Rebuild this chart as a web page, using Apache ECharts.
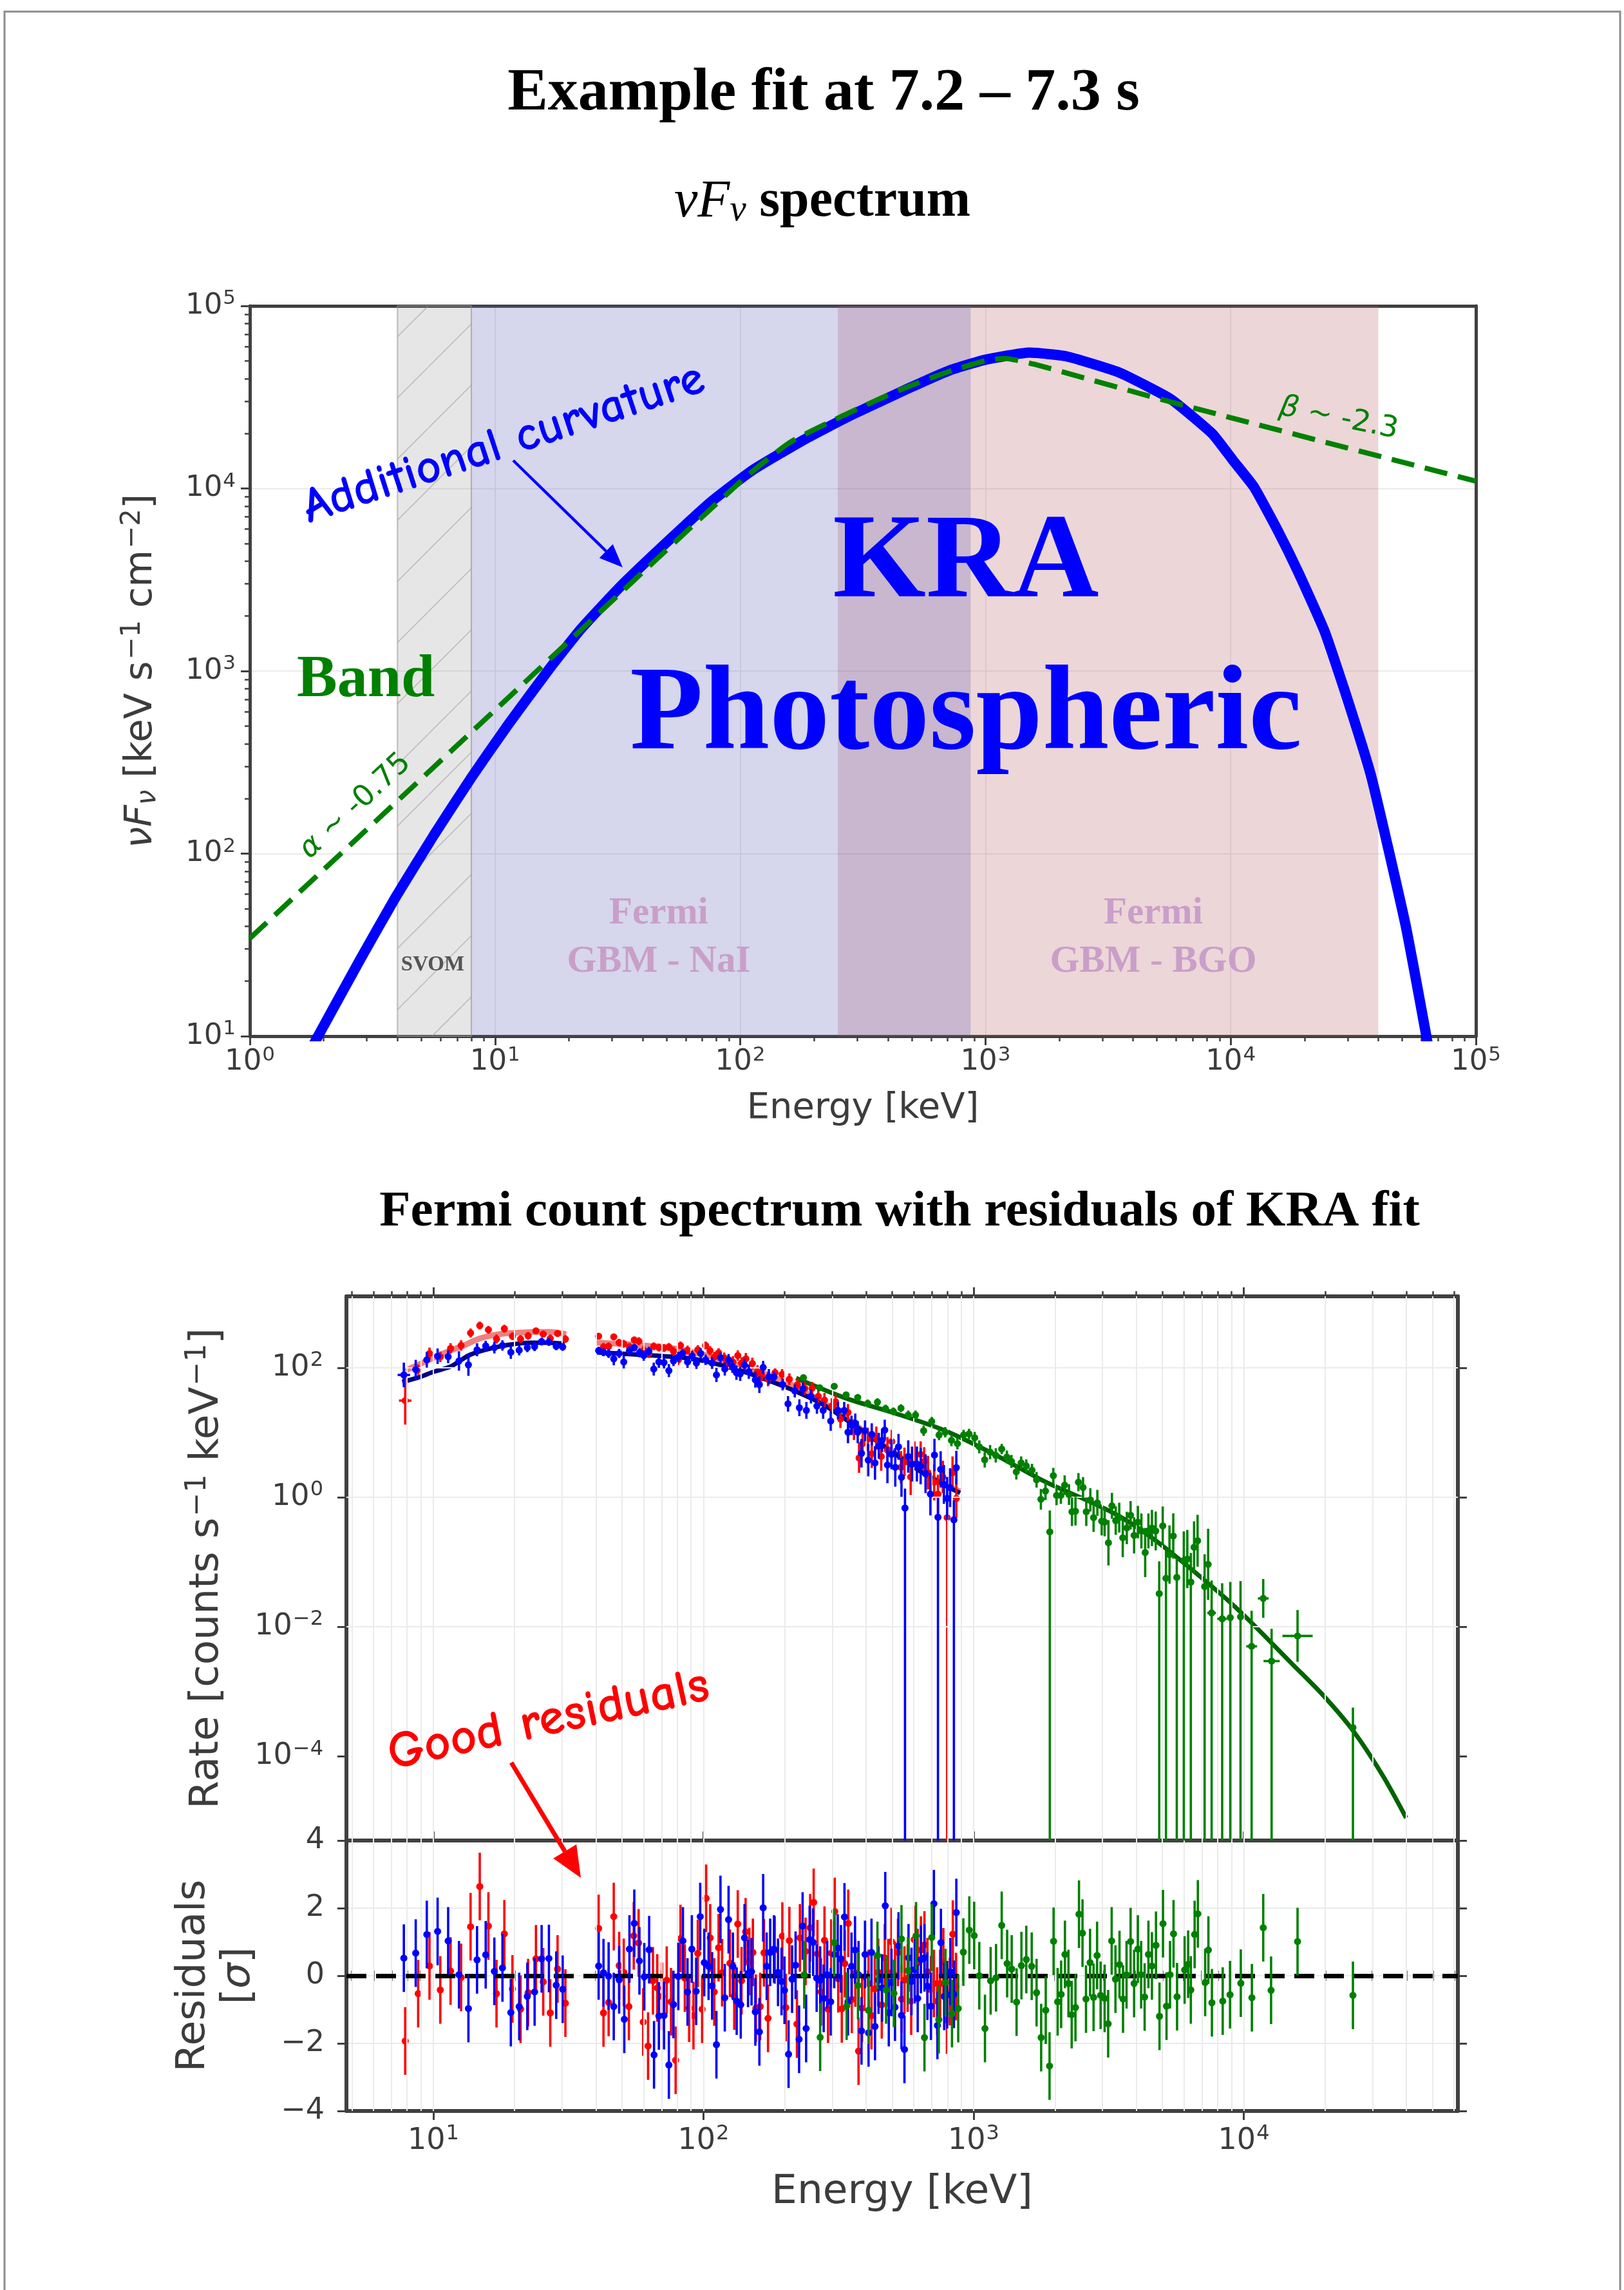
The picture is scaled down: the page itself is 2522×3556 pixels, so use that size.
<!DOCTYPE html>
<html>
<head>
<meta charset="utf-8">
<title>Example fit at 7.2 - 7.3 s</title>
<script src="https://cdn.jsdelivr.net/npm/echarts@6.0.0/dist/echarts.min.js"></script>
<style>
  html, body { margin: 0; padding: 0; background: #fff; }
  #main { width: 2522px; height: 3556px; }
</style>
</head>
<body>
<div id="main"></div>
<script>
// ===== nuFnu spectrum (log10 keV / log10 flux) =====
var kraLogE = [0.25, 0.278, 0.45, 0.594, 0.75, 0.9, 1.05, 1.226, 1.35, 1.509, 1.7, 1.879, 2.05, 2.264, 2.45,
  2.689, 2.85, 2.999, 3.18, 3.329, 3.542, 3.755, 3.925, 4.010, 4.095, 4.191, 4.276, 4.383, 4.478, 4.575, 4.713, 4.798, 4.83];
var kraLogF = [0.93, 1.0, 1.42, 1.76, 2.1, 2.41, 2.7, 3.02, 3.23, 3.46, 3.705, 3.925, 4.10, 4.27, 4.40,
  4.55, 4.645, 4.705, 4.744, 4.724, 4.637, 4.49, 4.30, 4.153, 4.008, 3.772, 3.54, 3.217, 2.838, 2.413, 1.61, 1.0, 0.75];
var bandLogE = [0, 1, 2, 2.2, 2.39, 2.55, 2.689, 2.85, 3.0, 3.08, 3.2, 3.755, 5];
var bandLogF = [1.536, 2.786, 4.036, 4.25, 4.38, 4.48, 4.56, 4.64, 4.70, 4.712, 4.68, 4.474, 4.04];
// instrument ranges [keV]
var svomRange = [4, 8];
var naiRange = [8, 870];
var bgoRange = [250, 40000];

// ===== count spectrum: NaI detector (red) =====
var naiRedLogE = [0.896, 0.944, 0.986, 1.026, 1.064, 1.103, 1.138, 1.172, 1.204, 1.234, 1.263, 1.293, 1.323, 1.351, 1.380, 1.407, 1.433, 1.460, 1.489,
  1.612, 1.630, 1.649, 1.668, 1.688, 1.705, 1.726, 1.744, 1.761, 1.779, 1.798, 1.816, 1.835, 1.854, 1.872, 1.889, 1.907, 1.915, 1.941, 1.958,
  1.979, 2.008, 2.024, 2.040, 2.056, 2.077, 2.093, 2.109, 2.127, 2.141, 2.157, 2.181, 2.200, 2.215, 2.239,
  2.265, 2.291, 2.318, 2.348, 2.375, 2.402, 2.425, 2.448, 2.475, 2.489, 2.507, 2.535, 2.557, 2.576, 2.589, 2.608, 2.623, 2.640, 2.658, 2.681,
  2.697, 2.731, 2.744, 2.767, 2.781, 2.804, 2.817, 2.831, 2.854, 2.868, 2.886, 2.902, 2.922, 2.936];
var naiRedLogRate = [1.493, 1.973, 2.222, 2.170, 2.300, 2.345, 2.537, 2.653, 2.587, 2.444, 2.604, 2.488, 2.444, 2.494, 2.570, 2.520, 2.454, 2.530, 2.444,
  2.488, 2.322, 2.332, 2.478, 2.388, 2.371, 2.322, 2.431, 2.411, 2.272, 2.222, 2.332, 2.312, 2.305, 2.322, 2.255, 2.123, 2.345, 2.272, 2.189,
  2.279, 2.345, 2.265, 2.166, 2.232, 2.156, 2.073, 2.090, 2.189, 2.073, 2.139, 2.066, 1.940, 1.890, 1.824,
  1.924, 1.900, 1.824, 1.741, 1.682, 1.682, 1.559, 1.502, 1.410, 1.476, 1.211, 1.310, 1.045, 0.607, 0.829, 0.896, 0.673, 0.912, 0.630, 0.730,
  0.862, 0.464, 0.547, 0.315, 0.663, 0.663, 0.554, 0.381, 0.232, 0.050, 0.315, -0.315, 0.381, -0.017];
// error half-width in dex; negative = lower bar runs to the axis floor
var naiRedErr = [0.37, 0.08, 0.09, 0.08, 0.08, 0.08, 0.07, 0.06, 0.06, 0.07, 0.06, 0.06, 0.06, 0.06, 0.05, 0.05, 0.06, 0.05, 0.06,
  0.05, 0.06, 0.06, 0.05, 0.06, 0.06, 0.06, 0.05, 0.06, 0.07, 0.07, 0.06, 0.06, 0.06, 0.06, 0.07, 0.08, 0.06, 0.07, 0.08,
  0.07, 0.06, 0.07, 0.08, 0.07, 0.08, 0.09, 0.09, 0.08, 0.09, 0.09, 0.09, 0.10, 0.10, 0.11,
  0.08, 0.08, 0.09, 0.09, 0.10, 0.10, 0.10, 0.11, 0.12, 0.11, 0.14, 0.13, 0.16, 0.23, 0.20, 0.18, 0.22, 0.18, 0.22, 0.20,
  0.18, 0.25, 0.22, 0.28, 0.20, 0.20, 0.22, 0.26, 0.28, 0.30, 0.25, -0.30, 0.25, 0.30];
var naiRedXerr = [0.023];
var naiRedModelLogE1 = [0.896, 0.949, 1.002, 1.055, 1.109, 1.162, 1.215, 1.268, 1.322, 1.375, 1.428, 1.492];
var naiRedModelLogR1 = [1.957, 2.056, 2.156, 2.255, 2.338, 2.438, 2.498, 2.531, 2.544, 2.554, 2.554, 2.521];
var naiRedModelLogE2 = [1.604, 1.694, 1.747, 1.800, 1.854, 1.907, 1.960, 2.013, 2.066, 2.120, 2.173, 2.226, 2.279, 2.343, 2.439, 2.530, 2.621, 2.712, 2.804, 2.895, 2.950];
var naiRedModelLogR2 = [2.388, 2.371, 2.355, 2.338, 2.322, 2.289, 2.239, 2.189, 2.123, 2.056, 1.973, 1.907, 1.824, 1.70, 1.47, 1.21, 0.94, 0.67, 0.41, 0.19, 0.09];

// ===== count spectrum: NaI detector (blue) =====
var naiBlueLogE = [0.891, 0.935, 0.976, 1.016, 1.055, 1.095, 1.130, 1.162, 1.194, 1.226, 1.256, 1.287, 1.318, 1.348, 1.375, 1.401, 1.428, 1.455, 1.479,
  1.612, 1.630, 1.649, 1.668, 1.688, 1.705, 1.726, 1.744, 1.763, 1.779, 1.798, 1.816, 1.835, 1.854, 1.872, 1.889, 1.907, 1.923, 1.941, 1.958,
  1.974, 1.990, 2.008, 2.032, 2.048, 2.063, 2.079, 2.093, 2.107, 2.122, 2.136, 2.152, 2.168, 2.192, 2.207, 2.221, 2.242,
  2.261, 2.293, 2.313, 2.338, 2.355, 2.368, 2.381, 2.398, 2.420, 2.443, 2.471, 2.498, 2.521, 2.535, 2.548, 2.562, 2.571, 2.585, 2.598, 2.610,
  2.623, 2.635, 2.649, 2.661, 2.671, 2.681, 2.696, 2.710, 2.722, 2.733, 2.746, 2.758, 2.772, 2.790, 2.804, 2.822, 2.840, 2.855, 2.868, 2.878,
  2.890, 2.902, 2.913, 2.927, 2.936];
var naiBlueLogRate = [1.890, 1.973, 2.123, 2.179, 2.172, 2.106, 2.046, 2.279, 2.338, 2.312, 2.345, 2.239, 2.272, 2.312, 2.328, 2.405, 2.398, 2.332, 2.322,
  2.265, 2.239, 2.222, 2.139, 2.222, 2.090, 2.265, 2.312, 2.232, 2.189, 2.255, 1.980, 2.090, 2.080, 1.957, 2.106, 2.166, 2.222, 2.090, 2.179,
  2.073, 2.222, 2.123, 2.073, 1.890, 2.156, 1.980, 2.123, 2.023, 1.924, 1.907, 2.040, 1.940, 1.814, 1.741, 2.007, 1.860,
  1.857, 1.741, 1.443, 1.642, 1.383, 1.675, 1.343, 1.559, 1.410, 1.343, 1.177, 1.343, 1.343, 1.005, 1.111, 1.144, 1.005, 0.680, 1.028, 0.574,
  0.972, 0.531, 0.796, 0.879, 1.038, 0.498, 0.663, 0.464, 0.779, 0.308, -0.166, 0.630, 0.514, 0.514, 0.481, 0.365, 0.050, 0.653, -0.308, 0.431,
  0.199, -0.017, 0.149, -0.348, 0.458];
var naiBlueErr = [0.19, 0.15, 0.12, 0.12, 0.10, 0.15, 0.17, 0.10, 0.08, 0.09, 0.08, 0.10, 0.08, 0.07, 0.07, 0.06, 0.06, 0.06, 0.06,
  0.06, 0.06, 0.07, 0.10, 0.07, 0.10, 0.07, 0.06, 0.07, 0.08, 0.07, 0.10, 0.09, 0.09, 0.10, 0.08, 0.08, 0.07, 0.09, 0.08,
  0.09, 0.08, 0.08, 0.09, 0.11, 0.08, 0.10, 0.09, 0.10, 0.11, 0.11, 0.10, 0.11, 0.12, 0.13, 0.10, 0.12,
  0.08, 0.09, 0.12, 0.10, 0.13, 0.10, 0.13, 0.11, 0.12, 0.13, 0.15, 0.13, 0.13, 0.17, 0.15, 0.15, 0.17, 0.22, 0.16, 0.25,
  0.17, 0.26, 0.20, 0.18, 0.16, 0.28, 0.23, 0.30, 0.20, 0.30, -0.30, 0.25, 0.27, 0.27, 0.28, 0.30, 0.33, 0.25, -0.30, 0.28,
  0.30, 0.33, 0.30, -0.30, 0.26];
var naiBlueXerr = [0.023];
var naiBlueModelLogE1 = [0.885, 0.949, 1.002, 1.066, 1.130, 1.194, 1.279, 1.364, 1.428, 1.486];
var naiBlueModelLogR1 = [1.781, 1.857, 1.940, 2.023, 2.189, 2.279, 2.355, 2.388, 2.388, 2.371];
var naiBlueModelLogE2 = [1.604, 1.747, 1.854, 1.960, 2.066, 2.173, 2.256, 2.348, 2.439, 2.530, 2.621, 2.712, 2.804, 2.895, 2.950];
var naiBlueModelLogR2 = [2.239, 2.206, 2.179, 2.139, 2.040, 1.907, 1.780, 1.625, 1.443, 1.194, 0.929, 0.663, 0.398, 0.182, 0.066];

// ===== count spectrum: BGO detector (green) =====
var bgoLogE = [2.370, 2.430, 2.484, 2.528, 2.571, 2.608, 2.644, 2.674, 2.703, 2.731, 2.758, 2.785, 2.815, 2.845, 2.872, 2.895, 2.918, 2.940, 2.963, 2.983,
  3.004, 3.021, 3.041, 3.061, 3.082,
  3.104, 3.123, 3.140, 3.158, 3.176, 3.195, 3.216, 3.233, 3.249, 3.266, 3.282, 3.295, 3.307, 3.323, 3.337, 3.353, 3.364, 3.377, 3.388, 3.405,
  3.417, 3.432, 3.444, 3.458, 3.474, 3.485, 3.499, 3.512, 3.526, 3.539, 3.552, 3.567, 3.581, 3.594, 3.608, 3.621, 3.635, 3.647, 3.660, 3.674,
  3.687, 3.700, 3.712, 3.725, 3.739, 3.752, 3.778, 3.791, 3.804, 3.816, 3.829, 3.855, 3.868, 3.881, 3.920, 3.950, 3.988, 4.029, 4.072, 4.103,
  4.199, 4.404];
var bgoLogRate = [1.847, 1.692, 1.715, 1.582, 1.542, 1.449, 1.469, 1.370, 1.327, 1.376, 1.270, 1.270, 1.028, 1.171, 0.962, 1.005, 0.879, 0.829, 0.962, 0.978,
  0.919, 0.779, 0.580, 0.697, 0.647,
  0.745, 0.622, 0.554, 0.394, 0.531, 0.485, 0.417, 0.270, -0.031, 0.097, -0.534, 0.334, 0.028, 0.028, 0.188, 0.042, -0.223, -0.214, 0.234, 0.152,
  -0.223, -0.040, -0.314, -0.086, -0.369, -0.383, -0.703, -0.132, -0.360, -0.314, -0.625, -0.474, -0.278, -0.588, -0.383, -0.520, -0.853, -0.520, -0.474, -0.520,
  -1.488, -0.442, -1.251, -0.885, -0.598, -1.237, -0.977, -0.954, -1.310, -0.771, -0.671, -1.379, -1.036, -1.786, -1.877, -1.858, -1.845, -2.302, -1.562, -2.530,
  -2.142, -3.558];
var bgoErr = [0.03, 0.04, 0.04, 0.05, 0.05, 0.06, 0.06, 0.06, 0.06, 0.06, 0.07, 0.07, 0.08, 0.07, 0.08, 0.08, 0.09, 0.09, 0.08, 0.08,
  0.09, 0.10, 0.12, 0.11, 0.11,
  0.08, 0.10, 0.10, 0.12, 0.10, 0.10, 0.10, 0.12, 0.16, 0.14, -0.33, 0.12, 0.15, 0.13, 0.15, 0.16, 0.22, 0.22, 0.14, 0.16,
  0.22, 0.18, 0.22, 0.20, 0.22, 0.22, 0.35, 0.20, 0.22, 0.23, 0.30, 0.25, 0.22, 0.28, 0.25, 0.27, 0.38, 0.27, 0.28, 0.30,
  -0.50, 0.30, -0.45, 0.45, 0.35, -0.30, -0.45, 0.45, -0.45, 0.40, 0.40, -0.50, 0.55, -0.50, -0.55, -0.55, -0.55, -0.55, 0.30, -0.50,
  0.40, -0.31];
var bgoXerr = [0, 0, 0, 0, 0, 0, 0, 0, 0, 0, 0, 0, 0, 0, 0, 0, 0, 0, 0, 0,
  0, 0, 0, 0, 0,
  0, 0, 0, 0, 0, 0, 0, 0, 0, 0, 0, 0, 0, 0, 0, 0, 0, 0, 0, 0,
  0, 0, 0, 0, 0, 0, 0, 0, 0, 0, 0, 0, 0, 0, 0, 0, 0, 0, 0, 0,
  0, 0, 0, 0, 0, 0, 0, 0, 0, 0, 0, 0, 0, 0.016, 0.018, 0, 0, 0.02, 0.02, 0.03,
  0.056, 0];
var bgoModelLogE = [2.343, 2.530, 2.712, 2.895, 3.077, 3.260, 3.442, 3.529, 3.625, 3.747, 3.966, 4.185, 4.294, 4.404, 4.513, 4.601];
var bgoModelLogR = [1.841, 1.526, 1.294, 1.028, 0.663, 0.25, -0.09, -0.269, -0.52, -0.908, -1.685, -2.599, -3.06, -3.603, -4.289, -4.951];

// ===== residuals [sigma] =====
var resRedLogE = [0.896, 0.944, 0.986, 1.026, 1.064, 1.103, 1.138, 1.172, 1.204, 1.234, 1.263, 1.293, 1.323, 1.351, 1.380, 1.407, 1.433, 1.460, 1.489,
  1.612, 1.630, 1.649, 1.668, 1.688, 1.705, 1.724, 1.742, 1.760, 1.777, 1.795, 1.813, 1.829, 1.847, 1.864, 1.880, 1.897, 1.915, 1.931, 1.947,
  1.963, 1.979, 1.995, 2.010, 2.025, 2.040, 2.056, 2.069, 2.098, 2.114, 2.127, 2.141, 2.156, 2.170, 2.183, 2.194, 2.210, 2.224, 2.239,
  2.264, 2.292, 2.305, 2.318, 2.346, 2.357, 2.378, 2.395, 2.408, 2.422, 2.435, 2.448, 2.461, 2.473, 2.486, 2.499, 2.512, 2.523, 2.536, 2.549,
  2.562, 2.574, 2.587, 2.598, 2.611, 2.622, 2.634, 2.647, 2.660, 2.671, 2.684, 2.696, 2.709, 2.720, 2.733, 2.744, 2.756, 2.769, 2.780, 2.793,
  2.805, 2.818, 2.829, 2.842, 2.853, 2.865, 2.876, 2.888, 2.901, 2.912, 2.923, 2.935];
var resRed = [-1.93, -0.53, 0.29, -0.42, 0.14, -0.05, 1.45, 2.64, 1.47, -0.53, 1.24, -0.39, -0.99, -0.50, 0.50, -0.18, -1.10, 0.20, -0.81,
  1.40, -1.10, -0.79, 1.75, 0.30, 0.10, -0.91, 1.18, 0.97, -1.37, -2.08, -0.15, -0.36, -0.61, -0.13, -0.77, -2.50, 1.10, -0.07, -0.96,
  -1.18, 0.66, -0.99, 2.29, 1.12, -0.48, 0.83, 0.09, 0.37, -0.60, 1.53, -0.15, 1.30, 0.42, 0.69, -0.96, -0.91, 0.68, -1.26,
  0.76, 1.17, -0.94, 1.04, -1.43, 1.12, 0.72, 1.42, 2.17, 0.65, -0.48, 1.05, -0.99, 0.67, 1.90, -0.09, -0.98, 0.36, 1.55, -0.70,
  0.08, -2.23, -0.96, -0.04, -0.23, -1.18, -0.39, 0.10, -0.86, 0.53, 0.09, 1.01, 0.01, 0.69, -0.69, -0.13, -0.07, -0.75, 1.07, 0.39,
  0.76, 0.91, 0.12, -0.41, -0.23, -0.75, -0.23, 0.41, -1.31, -0.47, 1.23, -0.32];
var resBlueLogE = [0.891, 0.935, 0.976, 1.016, 1.055, 1.095, 1.130, 1.162, 1.194, 1.226, 1.256, 1.287, 1.318, 1.348, 1.375, 1.401, 1.428, 1.455, 1.479,
  1.612, 1.630, 1.649, 1.668, 1.688, 1.707, 1.726, 1.744, 1.763, 1.781, 1.799, 1.817, 1.835, 1.854, 1.872, 1.889, 1.907, 1.924, 1.941, 1.957,
  1.973, 1.988, 2.003, 2.019, 2.032, 2.048, 2.063, 2.079, 2.093, 2.109, 2.123, 2.138, 2.152, 2.165, 2.178, 2.192, 2.207, 2.221, 2.234, 2.247,
  2.261, 2.276, 2.289, 2.300, 2.315, 2.328, 2.341, 2.354, 2.367, 2.380, 2.393, 2.406, 2.419, 2.432, 2.445, 2.458, 2.471, 2.484, 2.497, 2.509,
  2.522, 2.535, 2.548, 2.561, 2.574, 2.585, 2.598, 2.611, 2.622, 2.635, 2.648, 2.661, 2.673, 2.686, 2.696, 2.709, 2.722, 2.733, 2.744, 2.759,
  2.770, 2.782, 2.793, 2.805, 2.818, 2.829, 2.842, 2.853, 2.866, 2.879, 2.891, 2.902, 2.914, 2.927, 2.936];
var resBlue = [0.52, 0.67, 1.22, 1.31, 1.03, 0.03, -0.97, 0.47, 0.62, 0.13, 0.23, -1.09, -0.91, -0.61, -0.48, 0.50, 0.51, -0.28, -0.40,
  0.29, 0.09, -0.01, -0.91, -0.12, -1.29, 0.79, 1.55, 0.44, -0.03, 0.77, -2.34, -1.19, -1.18, -2.64, -0.85, -0.02, 1.03, -0.48, 0.79,
  -0.46, 1.75, 0.39, 0.28, -0.30, -2.04, 1.96, -0.65, 1.66, 0.28, -0.75, -0.86, 1.12, 0.07, 0.12, -1.07, -1.66, 2.01, 0.28, 0.69,
  0.79, 0.10, -0.17, -0.43, -2.32, -0.10, 0.31, -1.88, 1.47, -1.56, 1.07, 0.99, -0.07, -0.13, -0.67, 0.03, -0.77, 0.63, 0.82, 0.50,
  1.74, -0.77, 0.28, 0.76, 0.03, -1.63, 0.63, -1.69, 0.69, -1.50, -0.13, -0.36, 2.07, -1.09, -0.20, -0.93, 0.88, -1.17, -2.18, 0.53,
  -0.17, 0.18, -0.67, 0.48, 0.53, -0.31, -0.90, 2.13, -1.47, 0.98, -0.61, -0.56, 0.12, -0.55, 1.87];
var resGreenLogE = [2.373, 2.432, 2.484, 2.530, 2.572, 2.611, 2.644, 2.676, 2.705, 2.733, 2.757, 2.787, 2.818, 2.845, 2.871, 2.896, 2.920, 2.943, 2.962, 2.984,
  3.002, 3.021, 3.042, 3.063, 3.083, 3.104, 3.124, 3.141, 3.159, 3.177, 3.195, 3.215, 3.233, 3.250, 3.267, 3.281, 3.296, 3.311, 3.324, 3.338,
  3.351, 3.363, 3.377, 3.390, 3.403, 3.416, 3.431, 3.444, 3.457, 3.470, 3.485, 3.498, 3.511, 3.525, 3.540, 3.553, 3.566, 3.581, 3.594, 3.608,
  3.620, 3.633, 3.647, 3.660, 3.675, 3.688, 3.701, 3.714, 3.727, 3.740, 3.753, 3.781, 3.794, 3.804, 3.818, 3.830, 3.857, 3.869, 3.882, 3.922,
  3.949, 3.989, 4.030, 4.072, 4.101, 4.199, 4.404];
var resGreen = [0.03, -1.82, 0.98, -0.90, -0.29, -1.02, 0.60, -0.42, -0.52, 1.09, 0.15, 1.18, -1.83, 1.13, -1.30, -0.20, -1.12, -0.97, 0.70, 1.35,
  1.19, 0.00, -1.56, -0.15, -0.06, 1.49, 0.36, 0.20, -0.78, 0.30, 0.48, 0.28, -0.50, -1.83, -1.02, -2.67, 1.02, -0.77, -0.55, 0.63,
  -0.23, -1.15, -0.94, 1.82, 1.26, -0.69, 0.39, -0.64, 0.60, -0.58, -0.67, -1.42, 1.03, -0.10, 0.33, -0.69, 0.03, 1.01, -0.23, 0.79,
  0.03, -0.63, 0.63, 0.29, 0.90, -1.20, 1.54, -0.90, 0.03, 1.24, -0.62, 0.17, 0.34, -0.42, 1.22, 1.83, -0.20, 0.76, -0.80, -0.75,
  -0.56, -0.22, -0.65, 1.42, -0.43, 1.01, -0.58];

// axis ticks
var countMajor = [10, 100, 1000, 10000];
var rateMajor = [1e-4, 1e-2, 1, 100];

var FONT = '"DejaVu Sans", sans-serif';
var SERIF = '"Liberation Serif", "Times New Roman", serif';
var COMIC = '"Comic Sans MS", "Comic Neue", "DejaVu Sans", sans-serif';
var AX = '#404040';
var TXT = '#3c3c3c';
var GRIDC = '#ebebeb';

var p10 = function(v){ return Math.pow(10, v); };
var curve = function(le, lr){
  return le.map(function(x, i){ return [p10(x), p10(lr[i])]; });
};
var minorBetween = function(lo, hi){
  var out = [];
  for (var d = 1; d < 1e6; d *= 10) {
    for (var k = 2; k < 10; k++) {
      var v = d * k;
      if (v > lo && v < hi) out.push(v);
    }
  }
  return out;
};
var pointData = function(le, lr, err, xerr){
  return le.map(function(x, i){
    var e = err[i], dx = (xerr && xerr[i]) || 0;
    return [p10(x), p10(lr[i]), p10(lr[i] + Math.abs(e)), e < 0 ? 1e-12 : p10(lr[i] - e), p10(x - dx), p10(x + dx)];
  });
};
var residualData = function(le, res){
  return le.map(function(x, i){
    return [p10(x), res[i], res[i] + 1, res[i] - 1, p10(x), p10(x)];
  });
};
var renderErr = function(color){
  return function(params, api){
    var cs = params.coordSys;
    var x = api.value(0), y = api.value(1);
    var p = api.coord([x, y]);
    var hi = api.coord([x, api.value(2)]);
    var lo = api.coord([x, api.value(3)]);
    var xl = api.coord([api.value(4), y]);
    var xr = api.coord([api.value(5), y]);
    var yb = Math.min(lo[1], cs.y + cs.height);
    var yt = Math.max(hi[1], cs.y);
    var kids = [
      {type: 'line', shape: {x1: p[0], y1: yt, x2: p[0], y2: yb}, style: {stroke: color, lineWidth: 3.6}},
      {type: 'circle', shape: {cx: p[0], cy: p[1], r: 5.5}, style: {fill: color}}
    ];
    if (xr[0] - xl[0] > 2) {
      kids.push({type: 'line', shape: {x1: xl[0], y1: p[1], x2: xr[0], y2: p[1]}, style: {stroke: color, lineWidth: 3.6}});
    }
    return {type: 'group', children: kids};
  };
};
var powLabel = function(v){
  var n = Math.round(Math.log(v) / Math.LN10);
  return '{b|10}{s|' + (n < 0 ? '\u2212' + (-n) : n) + '}';
};
var supRich = function(size){
  return {
    b: {fontSize: size, fontFamily: FONT, color: TXT},
    s: {fontSize: Math.round(size * 0.7), fontFamily: FONT, color: TXT, padding: [0, 0, Math.round(size * 0.48), 1]}
  };
};
var arrow = function(x1, y1, x2, y2, color, lw, len, half){
  var dx = x2 - x1, dy = y2 - y1, L = Math.sqrt(dx * dx + dy * dy);
  var ux = dx / L, uy = dy / L;
  var bx = x2 - ux * len, by = y2 - uy * len;
  return [
    {type: 'line', z: 100, silent: true, shape: {x1: x1, y1: y1, x2: bx, y2: by}, style: {stroke: color, lineWidth: lw}},
    {type: 'polygon', z: 100, silent: true, shape: {points: [[x2, y2], [bx - uy * half, by + ux * half], [bx + uy * half, by - ux * half]]}, style: {fill: color}}
  ];
};
var label = function(x, y, text, opts){
  var st = {text: text, fill: opts.color, fontSize: opts.size, fontFamily: opts.family || SERIF,
    fontWeight: opts.weight || 'normal', fontStyle: opts.style || 'normal',
    align: opts.align || 'center', verticalAlign: 'middle',
    textAlign: opts.align || 'center', textVerticalAlign: 'middle'};
  if (opts.rich) st.rich = opts.rich;
  return {type: 'text', x: x, y: y, rotation: opts.rot || 0, z: 100, silent: true, style: st};
};

// hatch for the SVOM band
var hatch = document.createElement('canvas');
hatch.width = 95; hatch.height = 95;
var hc = hatch.getContext('2d');
hc.fillStyle = 'rgba(128,128,128,0.2)';
hc.fillRect(0, 0, 95, 95);
hc.strokeStyle = 'rgba(140,140,140,0.45)';
hc.lineWidth = 1.6;
hc.beginPath(); hc.moveTo(-5, 100); hc.lineTo(100, -5); hc.stroke();

var minorTopX = minorBetween(1, 1e5);
var minorTopY = minorBetween(10, 1e5);
var minorCount = minorBetween(4.77, 62000);
var countGridX = countMajor.concat(minorCount);

var frameLine = function(w){ return {show: true, onZero: false, lineStyle: {color: AX, width: w}}; };

var chart = echarts.init(document.getElementById('main'));

var option = {
  animation: false,
  backgroundColor: '#ffffff',
  grid: [
    {left: 388, top: 475, width: 1904, height: 1134},
    {left: 538, top: 2013, width: 1726, height: 845},
    {left: 538, top: 2858, width: 1726, height: 420}
  ],
  xAxis: [
    // 0: nuFnu energy axis
    {gridIndex: 0, type: 'log', min: 1, max: 1e5, position: 'bottom',
      axisLine: frameLine(5),
      axisTick: {show: true, length: 14, lineStyle: {color: AX, width: 3}},
      axisLabel: {margin: 14, formatter: powLabel, rich: supRich(45)},
      splitLine: {show: true, lineStyle: {color: GRIDC, width: 2}},
      name: 'Energy [keV]', nameLocation: 'middle', nameGap: 84,
      nameTextStyle: {fontFamily: FONT, fontSize: 56, color: TXT}},
    // 1: nuFnu minor ticks
    {gridIndex: 0, type: 'log', min: 1, max: 1e5, position: 'bottom',
      axisLine: {show: false}, axisLabel: {show: false}, splitLine: {show: false},
      axisTick: {show: true, length: 8, customValues: minorTopX, lineStyle: {color: AX, width: 2.5}}},
    // 2: nuFnu top frame
    {gridIndex: 0, type: 'log', min: 1, max: 1e5, position: 'top',
      axisLine: frameLine(5), axisTick: {show: false}, axisLabel: {show: false}, splitLine: {show: false}},
    // 3: count panel top, major ticks
    {gridIndex: 1, type: 'log', min: 4.77, max: 62000, position: 'top',
      axisLine: frameLine(6), axisLabel: {show: false}, splitLine: {show: false},
      axisTick: {show: true, length: 14, customValues: countMajor, lineStyle: {color: AX, width: 3}}},
    // 4: count panel top, minor ticks
    {gridIndex: 1, type: 'log', min: 4.77, max: 62000, position: 'top',
      axisLine: {show: false}, axisLabel: {show: false}, splitLine: {show: false},
      axisTick: {show: true, length: 8, customValues: minorCount, lineStyle: {color: AX, width: 2.5}}},
    // 5: count panel bottom frame
    {gridIndex: 1, type: 'log', min: 4.77, max: 62000, position: 'bottom',
      axisLine: frameLine(6), axisTick: {show: false}, axisLabel: {show: false}, splitLine: {show: false}},
    // 6: residual energy axis
    {gridIndex: 2, type: 'log', min: 4.77, max: 62000, position: 'bottom',
      axisLine: frameLine(6), splitLine: {show: false},
      axisTick: {show: true, length: 14, customValues: countMajor, lineStyle: {color: AX, width: 3}},
      axisLabel: {margin: 20, customValues: countMajor, formatter: powLabel, rich: supRich(46)},
      name: 'Energy [keV]', nameLocation: 'middle', nameGap: 95,
      nameTextStyle: {fontFamily: FONT, fontSize: 63, color: TXT}},
    // 7: residual minor ticks
    {gridIndex: 2, type: 'log', min: 4.77, max: 62000, position: 'bottom',
      axisLine: {show: false}, axisLabel: {show: false}, splitLine: {show: false},
      axisTick: {show: true, length: 8, customValues: minorCount, lineStyle: {color: AX, width: 2.5}}},
    // 8: residual top major
    {gridIndex: 2, type: 'log', min: 4.77, max: 62000, position: 'top',
      axisLine: frameLine(6), axisLabel: {show: false}, splitLine: {show: false},
      axisTick: {show: true, length: 14, customValues: countMajor, lineStyle: {color: AX, width: 3}}},
    // 9: residual top minor
    {gridIndex: 2, type: 'log', min: 4.77, max: 62000, position: 'top',
      axisLine: {show: false}, axisLabel: {show: false}, splitLine: {show: false},
      axisTick: {show: true, length: 8, customValues: minorCount, lineStyle: {color: AX, width: 2.5}}}
  ],
  yAxis: [
    // 0: nuFnu flux
    {gridIndex: 0, type: 'log', min: 10, max: 1e5, position: 'left',
      axisLine: frameLine(5),
      axisTick: {show: true, length: 14, lineStyle: {color: AX, width: 3}},
      axisLabel: {margin: 22, formatter: powLabel, rich: supRich(45)},
      splitLine: {show: true, lineStyle: {color: GRIDC, width: 2}},
      name: '{m|\u03bdF}{sub|\u03bd}{t| [keV s}{sup|\u22121}{t| cm}{sup|\u22122}{t|]}',
      nameLocation: 'middle', nameGap: 134, nameRotate: 90,
      nameTextStyle: {color: TXT, fontFamily: FONT, fontSize: 59, rich: {
        t: {fontFamily: FONT, fontSize: 59, color: TXT},
        m: {fontFamily: FONT, fontSize: 59, color: TXT, fontStyle: 'italic'},
        sub: {fontFamily: FONT, fontSize: 42, color: TXT, fontStyle: 'italic', padding: [22, 0, 0, 0]},
        sup: {fontFamily: FONT, fontSize: 42, color: TXT, padding: [0, 0, 27, 2]}
      }}},
    // 1: nuFnu minor ticks
    {gridIndex: 0, type: 'log', min: 10, max: 1e5, position: 'left',
      axisLine: {show: false}, axisLabel: {show: false}, splitLine: {show: false},
      axisTick: {show: true, length: 8, customValues: minorTopY, lineStyle: {color: AX, width: 2.5}}},
    // 2: nuFnu right frame
    {gridIndex: 0, type: 'log', min: 10, max: 1e5, position: 'right',
      axisLine: frameLine(5), axisTick: {show: false}, axisLabel: {show: false}, splitLine: {show: false}},
    // 3: count rate
    {gridIndex: 1, type: 'log', min: 5e-6, max: 1270, position: 'left',
      axisLine: frameLine(6), splitLine: {show: false},
      axisTick: {show: true, length: 14, customValues: rateMajor, lineStyle: {color: AX, width: 3}},
      axisLabel: {margin: 36, customValues: rateMajor, formatter: powLabel, rich: supRich(46)},
      name: '{t|Rate [counts s}{sup|\u22121}{t| keV}{sup|\u22121}{t|]}',
      nameLocation: 'middle', nameGap: 180, nameRotate: 90,
      nameTextStyle: {color: TXT, fontFamily: FONT, fontSize: 63, rich: {
        t: {fontFamily: FONT, fontSize: 63, color: TXT},
        sup: {fontFamily: FONT, fontSize: 44, color: TXT, padding: [0, 0, 28, 2]}
      }}},
    // 4: count rate right frame
    {gridIndex: 1, type: 'log', min: 5e-6, max: 1270, position: 'right',
      axisLine: frameLine(6), axisLabel: {show: false}, splitLine: {show: false},
      axisTick: {show: true, length: 14, customValues: rateMajor, lineStyle: {color: AX, width: 3}}},
    // 5: residuals
    {gridIndex: 2, type: 'value', min: -4, max: 4, interval: 2, position: 'left',
      axisLine: frameLine(6),
      axisTick: {show: true, length: 14, lineStyle: {color: AX, width: 3}},
      axisLabel: {margin: 34, fontFamily: FONT, fontSize: 46, color: TXT,
        formatter: function(v){ return v < 0 ? '\u2212' + (-v) : '' + v; }},
      splitLine: {show: true, lineStyle: {color: GRIDC, width: 2}},
      name: '{t|Residuals}\n{t|[}{i|\u03c3}{t|]}',
      nameLocation: 'middle', nameGap: 132, nameRotate: 90,
      nameTextStyle: {color: TXT, fontFamily: FONT, fontSize: 63, lineHeight: 70, rich: {
        t: {fontFamily: FONT, fontSize: 63, color: TXT, lineHeight: 70},
        i: {fontFamily: FONT, fontSize: 63, color: TXT, fontStyle: 'italic', lineHeight: 70}
      }}},
    // 6: residual right frame
    {gridIndex: 2, type: 'value', min: -4, max: 4, interval: 2, position: 'right',
      axisLine: frameLine(6), axisLabel: {show: false}, splitLine: {show: false},
      axisTick: {show: true, length: 14, lineStyle: {color: AX, width: 3}}}
  ],
  series: [
    // ---------- nuFnu panel ----------
    {name: 'bands', type: 'scatter', xAxisIndex: 0, yAxisIndex: 0, data: [[10, 100]], symbolSize: 0, silent: true, z: 1,
      markArea: {silent: true, label: {show: false}, data: [
        [{xAxis: svomRange[0], itemStyle: {color: {image: hatch, repeat: 'repeat'}, borderColor: 'rgba(150,150,150,0.6)', borderWidth: 2}}, {xAxis: svomRange[1]}],
        [{xAxis: bgoRange[0], itemStyle: {color: 'rgba(179,91,95,0.25)'}}, {xAxis: bgoRange[1]}],
        [{xAxis: naiRange[0], itemStyle: {color: 'rgba(91,91,179,0.25)'}}, {xAxis: naiRange[1]}]
      ]}},
    {name: 'KRA', type: 'line', xAxisIndex: 0, yAxisIndex: 0, data: curve(kraLogE, kraLogF),
      showSymbol: false, smooth: 0.15, z: 3, lineStyle: {color: '#0000ff', width: 16, cap: 'butt'}},
    {name: 'Band', type: 'line', xAxisIndex: 0, yAxisIndex: 0, data: curve(bandLogE, bandLogF),
      showSymbol: false, smooth: 0.2, z: 4, lineStyle: {color: '#008000', width: 8, type: [36, 17]}},

    // ---------- count panel ----------
    {name: 'countGrid', type: 'scatter', xAxisIndex: 3, yAxisIndex: 3, data: [[100, 1]], symbolSize: 0, silent: true, z: 1,
      markLine: {silent: true, symbol: ['none', 'none'], label: {show: false},
        lineStyle: {color: GRIDC, width: 2, type: 'solid'},
        data: countGridX.map(function(v){ return {xAxis: v}; }).concat(rateMajor.map(function(v){ return {yAxis: v}; }))}},
    {name: 'model n1 a', type: 'line', xAxisIndex: 3, yAxisIndex: 3, data: curve(naiRedModelLogE1, naiRedModelLogR1),
      showSymbol: false, smooth: 0.3, z: 2, lineStyle: {color: '#f08080', width: 9}},
    {name: 'model n1 b', type: 'line', xAxisIndex: 3, yAxisIndex: 3, data: curve(naiRedModelLogE2, naiRedModelLogR2),
      showSymbol: false, smooth: 0.3, z: 2, lineStyle: {color: '#f08080', width: 9}},
    {name: 'model n2 a', type: 'line', xAxisIndex: 3, yAxisIndex: 3, data: curve(naiBlueModelLogE1, naiBlueModelLogR1),
      showSymbol: false, smooth: 0.3, z: 3, lineStyle: {color: '#000080', width: 7}},
    {name: 'model n2 b', type: 'line', xAxisIndex: 3, yAxisIndex: 3, data: curve(naiBlueModelLogE2, naiBlueModelLogR2),
      showSymbol: false, smooth: 0.3, z: 3, lineStyle: {color: '#000080', width: 7}},
    {name: 'model b0', type: 'line', xAxisIndex: 3, yAxisIndex: 3, data: curve(bgoModelLogE, bgoModelLogR),
      showSymbol: false, smooth: 0.3, z: 3, lineStyle: {color: '#006400', width: 7}},
    {name: 'n1', type: 'custom', xAxisIndex: 3, yAxisIndex: 3, z: 4, encode: {x: 0, y: 1},
      data: pointData(naiRedLogE, naiRedLogRate, naiRedErr, naiRedXerr), renderItem: renderErr('#ff0000')},
    {name: 'n2', type: 'custom', xAxisIndex: 3, yAxisIndex: 3, z: 5, encode: {x: 0, y: 1},
      data: pointData(naiBlueLogE, naiBlueLogRate, naiBlueErr, naiBlueXerr), renderItem: renderErr('#0000ff')},
    {name: 'b0', type: 'custom', xAxisIndex: 3, yAxisIndex: 3, z: 5, encode: {x: 0, y: 1},
      data: pointData(bgoLogE, bgoLogRate, bgoErr, bgoXerr), renderItem: renderErr('#008000')},

    // ---------- residual panel ----------
    {name: 'resGrid', type: 'scatter', xAxisIndex: 6, yAxisIndex: 5, data: [[100, 0]], symbolSize: 0, silent: true, z: 1,
      markLine: {silent: true, symbol: ['none', 'none'], label: {show: false},
        lineStyle: {color: GRIDC, width: 2, type: 'solid'},
        data: countGridX.map(function(v){ return {xAxis: v}; })}},
    {name: 'res n1', type: 'custom', xAxisIndex: 6, yAxisIndex: 5, z: 4, encode: {x: 0, y: 1},
      data: residualData(resRedLogE, resRed), renderItem: renderErr('#ff0000')},
    {name: 'res n2', type: 'custom', xAxisIndex: 6, yAxisIndex: 5, z: 5, encode: {x: 0, y: 1},
      data: residualData(resBlueLogE, resBlue), renderItem: renderErr('#0000ff')},
    {name: 'res b0', type: 'custom', xAxisIndex: 6, yAxisIndex: 5, z: 5, encode: {x: 0, y: 1},
      data: residualData(resGreenLogE, resGreen), renderItem: renderErr('#008000')},
    {name: 'zero', type: 'scatter', xAxisIndex: 6, yAxisIndex: 5, data: [[100, 0]], symbolSize: 0, silent: true, z: 10,
      markLine: {silent: true, symbol: ['none', 'none'], label: {show: false},
        lineStyle: {color: '#000000', width: 7, type: [31, 15]},
        data: [{yAxis: 0}]}}
  ],
  graphic: [
    {type: 'rect', z: 0, silent: true, shape: {x: 7, y: 18, width: 2509, height: 3600},
      style: {fill: 'transparent', stroke: '#8c8c8c', lineWidth: 3}},
    label(1279, 146, 'Example fit at 7.2 \u2013 7.3 s', {color: '#000', size: 94, weight: 'bold'}),
    label(1277, 314, '{m|\u03bdF}{s|\u03bd}{b| spectrum}', {color: '#000', size: 82, rich: {
      m: {fontFamily: SERIF, fontSize: 82, fontStyle: 'italic', fill: '#000'},
      s: {fontFamily: SERIF, fontSize: 57, fontStyle: 'italic', fill: '#000', padding: [27, 0, 0, 0]},
      b: {fontFamily: SERIF, fontSize: 82, fontWeight: 'bold', fill: '#000'}
    }}),
    label(1397, 1883, 'Fermi count spectrum with residuals of KRA fit', {color: '#000', size: 79, weight: 'bold'}),
    // nuFnu annotations
    label(1500, 878, 'KRA', {color: '#0000ff', size: 186, weight: 'bold'}),
    label(1500, 1114, 'Photospheric', {color: '#0000ff', size: 186, weight: 'bold'}),
    label(461, 1057, 'Band', {color: '#008000', size: 94, weight: 'bold', align: 'left'}),
    label(1023, 1419, 'Fermi', {color: '#c99fc9', size: 59, weight: 'bold'}),
    label(1023, 1494, 'GBM - NaI', {color: '#c99fc9', size: 59, weight: 'bold'}),
    label(1791, 1419, 'Fermi', {color: '#c99fc9', size: 59, weight: 'bold'}),
    label(1791, 1494, 'GBM - BGO', {color: '#c99fc9', size: 59, weight: 'bold'}),
    label(672, 1498, 'SVOM', {color: '#555555', size: 33, weight: 'bold'}),
    label(782, 689, 'Additional curvature', {color: '#0000ff', size: 76, family: COMIC, weight: 'bold', rot: 0.321}),
    label(552, 1252, '{a|\u03b1}{t| ~ -0.75}', {color: '#008000', size: 46, family: FONT, rot: 0.75, rich: {
      a: {fontFamily: FONT, fontSize: 46, fontStyle: 'italic', fill: '#008000'},
      t: {fontFamily: FONT, fontSize: 46, fill: '#008000'}
    }}),
    label(2079, 650, '{a|\u03b2}{t| ~ -2.3}', {color: '#008000', size: 46, family: FONT, rot: -0.2, rich: {
      a: {fontFamily: FONT, fontSize: 46, fontStyle: 'italic', fill: '#008000'},
      t: {fontFamily: FONT, fontSize: 46, fill: '#008000'}
    }}),
    label(852, 2671, 'Good residuals', {color: '#ff0000', size: 80, family: COMIC, weight: 'bold', rot: 0.2157})
  ]
    .concat(arrow(797, 715, 967, 881, '#0000ff', 4.5, 36, 15))
    .concat(arrow(794, 2737, 902, 2916, '#ff0000', 7, 48, 21))
};

chart.setOption(option);
</script>
</body>
</html>
